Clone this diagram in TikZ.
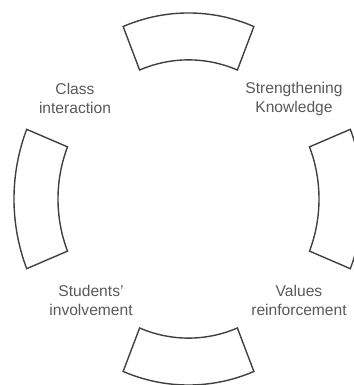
\documentclass[tikz,border=0pt]{standalone}
\usepackage{fontspec}
\setmainfont{Liberation Sans}
\usepackage{xcolor}
\definecolor{ringgray}{HTML}{404040}
\definecolor{textgray}{HTML}{595959}

\begin{document}
\begin{tikzpicture}[x=1pt, y=1pt,
  segment/.style={draw=ringgray, line width=1.4pt},
  cyclelabel/.style={text=textgray, align=center, inner sep=0pt, font=\fontsize{15.6}{19}\selectfont}]

  \useasboundingbox (-188.5,-186) rectangle (164.5,199);
  \coordinate (C) at (0,0);
  \def\ro{174.5} % outer radius
  \def\ri{130.5} % inner radius
  \def\half{22}  % half opening, degrees

  % the four ring pieces
  \begin{scope}[shift={(C)}, yscale=1.066]
    \foreach \a in {90,180,0,270}{
      \draw[segment] (\a-\half:\ro) arc[start angle=\a-\half, end angle=\a+\half, radius=\ro]
        -- (\a+\half:\ri) arc[start angle=\a+\half, end angle=\a-\half, radius=\ri] -- cycle;
    }
  \end{scope}

  \node[cyclelabel] (class)    at (-113.5,100.5) {Class\\interaction};
  \node[cyclelabel] (strength) at (105.5,100)    {Strengthening\\Knowledge};
  \node[cyclelabel] (students) at (-97.5,-101)   {Students'\\involvement};
  \node[cyclelabel] (values)   at (110.5,-101)   {Values\\reinforcement};

\end{tikzpicture}
\end{document}
